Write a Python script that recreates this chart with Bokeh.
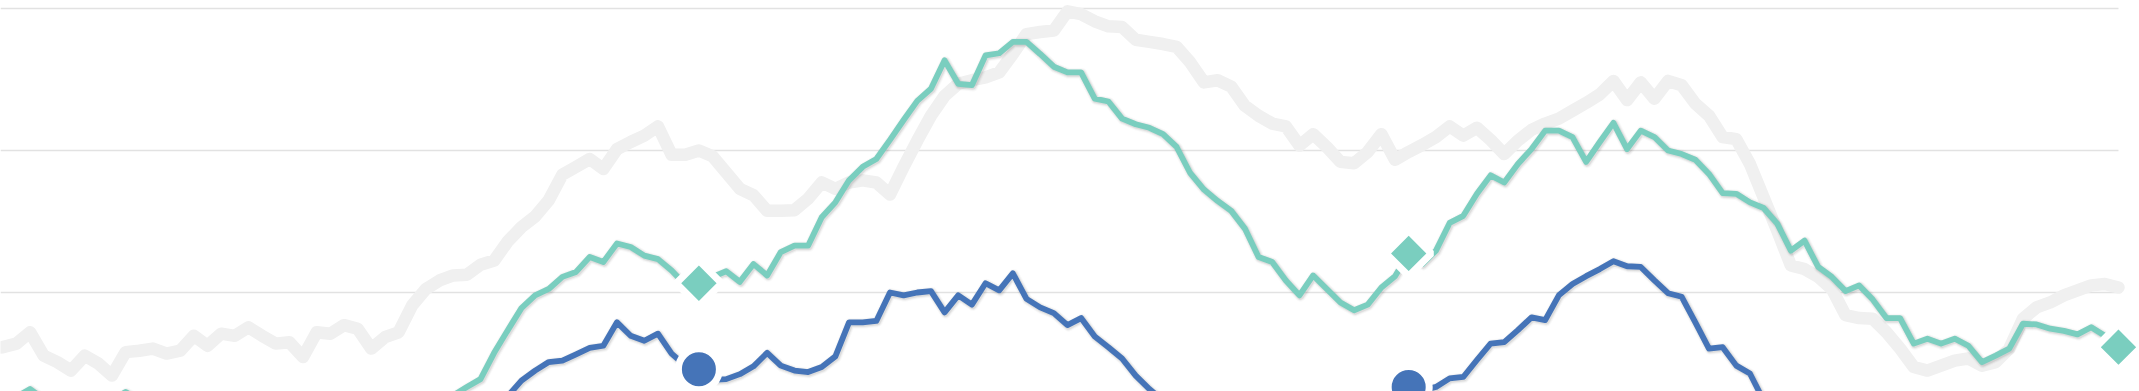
import numpy as np
from bokeh.plotting import figure
from bokeh.models import Range1d
from bokeh.embed import file_html
from bokeh.resources import INLINE

# ---- data (weekly index) ----
weeks = list(range(157))

gray_series = [
    12.1, 12.3, 12.8, 14.4, 11.1, 10.2, 9.0, 11.1, 10.0, 8.3,
    11.6, 11.8, 12.1, 11.4, 11.8, 13.9, 12.5, 14.2, 13.9, 15.1,
    13.9, 12.8, 13.0, 10.9, 14.4, 14.2, 15.4, 14.9, 12.1, 13.7,
    14.4, 18.2, 20.5, 21.7, 22.4, 22.5, 23.9, 24.5, 27.2, 29.2,
    30.7, 33.0, 36.6, 37.7, 38.8, 37.4, 40.2, 41.2, 42.1, 43.4,
    39.4, 39.4, 40.0, 39.2, 36.9, 34.6, 33.7, 31.5, 31.5, 31.6,
    33.2, 35.5, 34.6, 35.5, 35.8, 35.5, 33.8, 37.7, 41.4, 44.9,
    47.7, 49.4, 49.9, 50.3, 51.0, 53.6, 56.4, 56.7, 56.9, 59.6,
    59.2, 58.2, 57.5, 57.4, 55.6, 55.3, 55.0, 54.6, 52.4, 49.6,
    49.9, 49.0, 46.3, 44.9, 43.8, 43.4, 40.7, 42.3, 40.5, 38.4,
    38.2, 39.8, 42.3, 38.7, 39.8, 40.8, 41.9, 43.4, 42.1, 43.2,
    41.5, 39.5, 41.4, 42.9, 43.8, 44.5, 45.6, 46.7, 47.9, 49.8,
    47.1, 49.6, 47.3, 49.8, 49.2, 46.6, 44.9, 41.9, 41.6, 38.1,
    33.4, 28.7, 23.8, 23.3, 22.2, 20.5, 16.8, 16.4, 16.3, 14.4,
    12.1, 9.5, 9.0, 9.7, 10.4, 10.7, 9.7, 10.2, 12.1, 16.3,
    17.9, 18.6, 19.6, 20.3, 21.0, 21.2, 20.7,
]

teal_series = [
    3.4, 4.3, 5.3, 6.4, 5.0, 4.1, 3.4, 4.1, 4.6, 4.8,
    6.0, 4.8, 4.1, 3.4, 2.7, 2.9, 2.4, 2.7, 2.4, 2.9,
    3.1, 2.9, 3.4, 2.9, 3.1, 3.4, 3.6, 3.4, 3.8, 4.1,
    4.3, 4.8, 4.8, 5.0, 5.5, 6.7, 7.8, 11.5, 14.7, 17.8,
    19.6, 20.5, 22.2, 22.9, 25.0, 24.3, 26.9, 26.4, 25.2, 24.7,
    23.1, 21.1, 21.3, 22.2, 23.0, 21.5, 24.0, 22.4, 25.7, 26.6,
    26.6, 30.6, 32.7, 35.8, 37.7, 38.8, 41.5, 44.3, 47.0, 48.7,
    52.7, 49.4, 49.2, 53.4, 53.7, 55.3, 55.3, 53.6, 51.8, 51.0,
    51.0, 47.3, 46.9, 44.5, 43.7, 43.2, 42.3, 40.5, 36.8, 34.5,
    32.9, 31.5, 29.0, 25.0, 24.3, 21.7, 19.6, 22.4, 20.5, 18.6,
    17.5, 18.3, 20.7, 22.3, 25.5, 24.0, 25.9, 29.8, 30.8, 33.9,
    36.5, 35.5, 38.1, 40.2, 42.8, 42.8, 41.9, 38.4, 41.2, 43.9,
    40.2, 42.8, 41.9, 40.0, 39.5, 38.7, 36.7, 34.0, 33.9, 32.7,
    31.9, 29.7, 25.9, 27.3, 23.6, 22.2, 20.2, 21.0, 19.0, 16.4,
    16.4, 12.8, 13.5, 12.8, 13.5, 12.5, 10.2, 11.1, 12.1, 15.6,
    15.5, 14.9, 14.6, 14.1, 15.1, 13.9, 12.3,
]

blue_series = [
    0.6, 0.8, 0.6, 1.0, 0.8, 0.6, 0.3, 0.8, 0.6, 0.3,
    0.8, 0.6, 0.3, 0.6, 0.3, 0.6, 0.3, 0.6, 0.8, 0.6,
    0.3, 0.6, 0.8, 0.6, 1.0, 0.8, 1.0, 1.3, 1.0, 1.5,
    1.7, 1.5, 2.0, 2.2, 2.4, 2.9, 3.6, 4.3, 5.4, 7.6,
    9.0, 10.2, 10.4, 11.3, 12.2, 12.5, 15.8, 13.9, 13.2, 14.2,
    11.4, 9.7, 9.2, 7.7, 7.8, 8.5, 9.6, 11.5, 9.7, 9.0,
    8.8, 9.5, 11.0, 15.8, 15.8, 16.0, 20.0, 19.6, 20.0, 20.2,
    17.2, 19.6, 18.3, 21.3, 20.3, 22.7, 19.1, 17.9, 17.1, 15.4,
    16.4, 13.8, 12.3, 10.7, 8.3, 6.4, 4.8, 3.6, 2.9, 2.2,
    1.7, 1.5, 1.3, 1.5, 1.7, 2.0, 2.2, 2.4, 2.7, 2.9,
    3.1, 3.6, 4.3, 5.0, 6.7, 6.2, 6.7, 7.9, 8.1, 10.5,
    12.8, 13.0, 14.7, 16.5, 16.1, 19.6, 21.2, 22.3, 23.3, 24.4,
    23.7, 23.6, 21.7, 19.9, 19.4, 15.8, 12.1, 12.3, 9.7, 8.6,
    4.8, 3.8, 2.9, 2.2, 1.7, 1.5, 1.3, 1.2, 1.0, 1.2,
    1.0, 0.8, 1.0, 1.2, 1.0, 0.8, 1.0, 1.2, 1.0, 0.8,
    1.0, 1.2, 1.0, 0.8, 1.0, 1.2, 1.0,
]

marker_weeks = [52, 104, 156]
grid_values = [20, 40, 60]

GRAY = "#f0f0f0"
TEAL = "#7acebf"
BLUE = "#4574b8"
GRID = "#e2e2e2"

W, H = 2139, 391
XR = (0.835, 157.54)
YR = (6.056, 61.13)

p = figure(width=W, height=H, x_range=Range1d(*XR), y_range=Range1d(*YR),
           output_backend="svg", toolbar_location=None, min_border=0,
           x_axis_location=None, y_axis_location=None)
p.grid.visible = False
p.outline_line_color = None
p.background_fill_color = "white"
p.border_fill_color = "white"

# horizontal grid lines ending at the last data point
last_week = weeks[-1]
p.segment(x0=[XR[0]] * len(grid_values), y0=grid_values,
          x1=[last_week] * len(grid_values), y1=grid_values,
          line_color=GRID, line_width=1.6)

x = np.array(weeks, dtype=float)
gx = np.array(gray_series)
tx = np.array(teal_series)
bx = np.array(blue_series)

# one-pixel offsets in data units (for drop shadows)
dxp = (XR[1] - XR[0]) / W
dyp = (YR[1] - YR[0]) / H

p.line(x, gx, line_color=GRAY, line_width=12.5, line_join="round", line_cap="round")

def shadowed_line(ys, color, lw):
    for extra, a in ((5, 0.025), (3, 0.045), (1, 0.07)):
        p.line(x + dxp, ys - dyp, line_color="black", line_alpha=a,
               line_width=lw + extra, line_join="round", line_cap="round")
    p.line(x, ys, line_color=color, line_width=lw, line_join="round", line_cap="round")

shadowed_line(tx, TEAL, 5.8)
mi = np.array(marker_weeks)
p.scatter(x[mi], tx[mi], marker="square", angle=np.pi / 4, size=32,
          fill_color=TEAL, line_color="white", line_width=7)

shadowed_line(bx, BLUE, 5.8)
p.scatter(x[mi], bx[mi], marker="circle", size=41,
          fill_color=BLUE, line_color="white", line_width=7)

open("out.html", "w").write(file_html(p, INLINE))
